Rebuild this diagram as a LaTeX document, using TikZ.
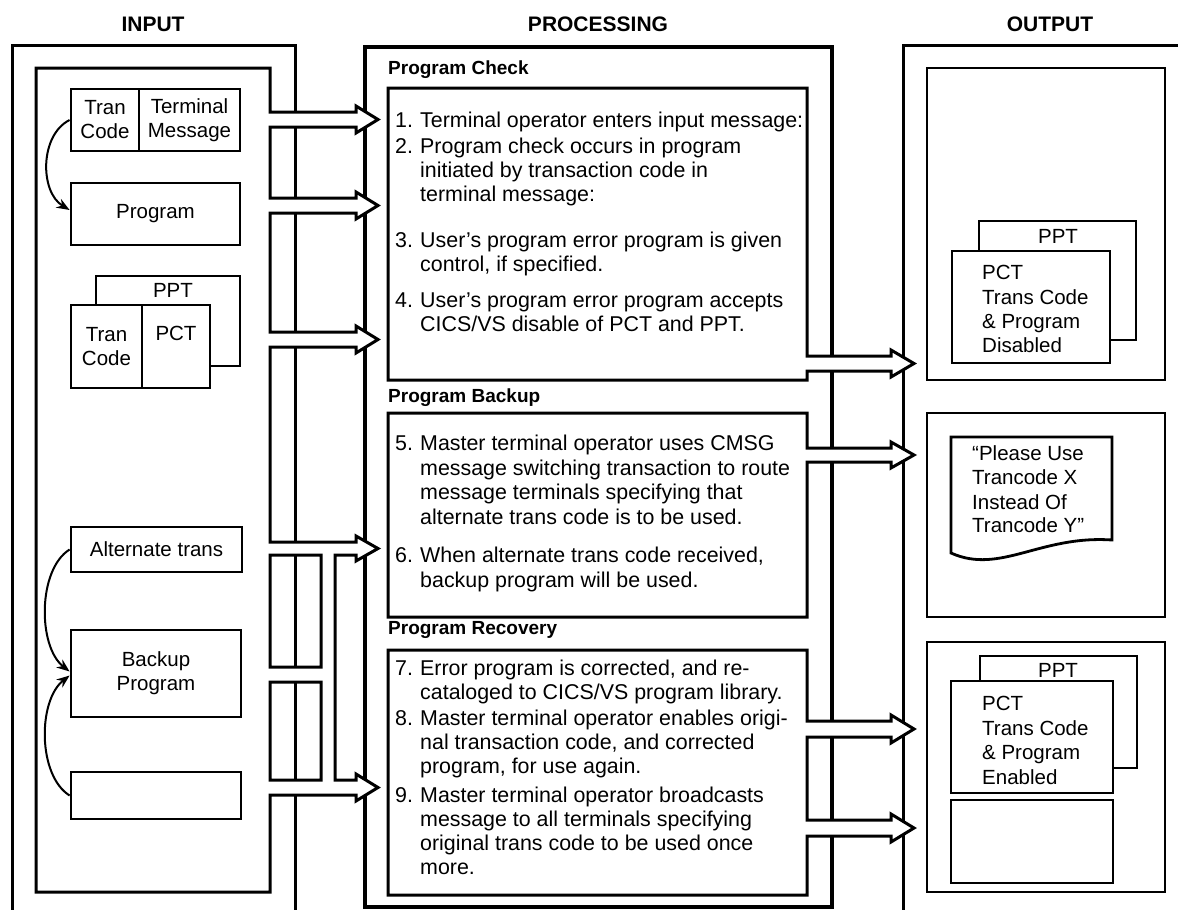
\documentclass[tikz,border=0pt]{standalone}
\usepackage{fontspec}
\setmainfont{Liberation Sans}
\usetikzlibrary{arrows.meta}
\newcommand\bodyfont{\fontsize{21.4pt}{24.5pt}\selectfont}
\newcommand\boxfont{\fontsize{20.5pt}{24pt}\selectfont}
\newcommand\headfont{\fontsize{21pt}{25pt}\selectfont\bfseries}
\newcommand\labfont{\fontsize{19pt}{23pt}\selectfont\bfseries}
\begin{document}
\begin{tikzpicture}[x=1pt,y=-1pt,
  frame/.style={line width=3pt, line join=miter},
  heavy/.style={line width=4.5pt},
  pipe/.style={line width=3pt, fill=white, line join=miter},
  box/.style={draw, line width=2.8pt, fill=white, inner sep=0pt, font=\boxfont},
  txt/.style={anchor=base west, inner sep=0pt, font=\bodyfont},
  otxt/.style={anchor=base west, inner sep=0pt, font=\boxfont},
  ctxt/.style={anchor=base, inner sep=0pt, font=\boxfont},
  head/.style={anchor=base, inner sep=0pt, font=\headfont},
  lab/.style={anchor=base west, inner sep=0pt, font=\labfont},
  link/.style={line width=2pt, -{Stealth[length=13pt,width=10pt]}},
]
\useasboundingbox (0,0) rectangle (1178,910);
\fill[white] (0,0) rectangle (1178,910);

% column titles
\node[head] (tin)  at (153,31)  {INPUT};
\node[head] (tpro) at (598,31)  {PROCESSING};
\node[head] (tout) at (1050,31) {OUTPUT};

% outer frames of the three columns
\draw[frame] (12,925) -- (12,45) -- (295,45) -- (295,925);
\draw[heavy] (365,47) rectangle (832,907);
\draw[frame] (903,925) -- (903,45) -- (1195,45);

% input frame with its outlet pipes and block arrows
\draw[pipe, even odd rule]
  (36,68) -- (270,68) -- (270,112) -- (356,112) -- (356,106) -- (378,119.5) -- (356,133) -- (356,127) -- (270,127)
  -- (270,198) -- (356,198) -- (356,192) -- (378,205.5) -- (356,219) -- (356,213) -- (270,213)
  -- (270,332) -- (356,332) -- (356,326) -- (378,339.5) -- (356,353) -- (356,347) -- (270,347)
  -- (270,542) -- (356,542) -- (356,536) -- (378,548.5) -- (356,561) -- (356,555) -- (335,555)
  -- (335,780) -- (356,780) -- (356,774) -- (378,787.5) -- (356,801) -- (356,795) -- (270,795)
  -- (270,892) -- (36,892) -- cycle
  (270,555) rectangle (321,667)
  (270,682) rectangle (321,780);

% processing boxes with arrows to the output column
\draw[pipe]
  (388,88) -- (807,88) -- (807,356) -- (891,356) -- (891,350) -- (914,363.5) -- (891,377) -- (891,371) -- (807,371)
  -- (807,380) -- (388,380) -- cycle;
\draw[pipe]
  (388,413) -- (807,413) -- (807,448) -- (891,448) -- (891,442) -- (914,455) -- (891,468) -- (891,462) -- (807,462)
  -- (807,617) -- (388,617) -- cycle;
\draw[pipe]
  (388,650) -- (807,650) -- (807,721) -- (891,721) -- (891,715) -- (914,729) -- (891,743) -- (891,737) -- (807,737)
  -- (807,820) -- (891,820) -- (891,814) -- (914,828) -- (891,842) -- (891,836) -- (807,836)
  -- (807,895) -- (388,895) -- cycle;

% ---------------- input column ----------------
\node[box, minimum width=68pt, minimum height=62pt, align=center] (tc1) at (105,120) {Tran\\Code};
\node[box, minimum width=101pt, minimum height=62pt, align=center] (tm1) at (189.5,120) {Terminal\\Message};
\node[box, minimum width=169pt, minimum height=62pt] (prog) at (155.5,214) {Program};
\draw[link] (tc1.west) .. controls +(-30,15) and +(-30,-18) .. ([yshift=4pt]prog.west);

\node[box, minimum width=144pt, minimum height=90pt] (ppt0) at (168,321) {};
\node[ctxt] (ppt0t) at (173,297) {PPT};
\node[box, minimum width=71pt, minimum height=83pt, align=center] (tc2) at (106.5,346.5) {Tran\\Code};
\node[box, minimum width=68pt, minimum height=83pt] (pct0) at (176,346.5) {};
\node[ctxt] (pct0t) at (176,340) {PCT};

\node[box, minimum width=171pt, minimum height=45pt] (alt) at (156.5,549.5) {Alternate trans};
\node[box, minimum width=170pt, minimum height=87pt, align=center] (bkp) at (156,673.5) {Backup\\Program};
\node[box, minimum width=170pt, minimum height=47pt] (blk) at (156,795.5) {};
\draw[link] (alt.west) .. controls +(-32,20) and +(-32,-25) .. ([yshift=2pt]bkp.west);
\draw[link] (blk.west) .. controls +(-32,-20) and +(-32,25) .. ([yshift=-2pt]bkp.west);

% ---------------- processing column ----------------
\node[lab] (lchk) at (388,74)  {Program Check};
\node[lab] (lbkp) at (388,402) {Program Backup};
\node[lab] (lrec) at (388,634) {Program Recovery};

\node[txt] (n1)  at (395,127) {1.};
\node[txt] (p1a) at (420,127) {Terminal operator enters input message:};
\node[txt] (n2)  at (395,153) {2.};
\node[txt] (p2a) at (420,153) {Program check occurs in program};
\node[txt] (p2b) at (420,177) {initiated by transaction code in};
\node[txt] (p2c) at (420,201) {terminal message:};
\node[txt] (n3)  at (395,247) {3.};
\node[txt] (p3a) at (420,247) {User’s program error program is given};
\node[txt] (p3b) at (420,271) {control, if specified.};
\node[txt] (n4)  at (395,307) {4.};
\node[txt] (p4a) at (420,307) {User’s program error program accepts};
\node[txt] (p4b) at (420,331) {CICS/VS disable of PCT and PPT.};

\node[txt] (n5)  at (395,450) {5.};
\node[txt] (p5a) at (420,450) {Master terminal operator uses CMSG};
\node[txt] (p5b) at (420,475) {message switching transaction to route};
\node[txt] (p5c) at (420,499) {message terminals specifying that};
\node[txt] (p5d) at (420,524) {alternate trans code is to be used.};
\node[txt] (n6)  at (395,562) {6.};
\node[txt] (p6a) at (420,562) {When alternate trans code received,};
\node[txt] (p6b) at (420,587) {backup program will be used.};

\node[txt] (n7)  at (395,675) {7.};
\node[txt] (p7a) at (420,675) {Error program is corrected, and re-};
\node[txt] (p7b) at (420,699) {cataloged to CICS/VS program library.};
\node[txt] (n8)  at (395,725) {8.};
\node[txt] (p8a) at (420,725) {Master terminal operator enables origi-};
\node[txt] (p8b) at (420,749) {nal transaction code, and corrected};
\node[txt] (p8c) at (420,773) {program, for use again.};
\node[txt] (n9)  at (395,802) {9.};
\node[txt] (p9a) at (420,802) {Master terminal operator broadcasts};
\node[txt] (p9b) at (420,826) {message to all terminals specifying};
\node[txt] (p9c) at (420,850) {original trans code to be used once};
\node[txt] (p9d) at (420,874) {more.};

% ---------------- output column ----------------
\node[box, minimum width=238pt, minimum height=312pt] (o1) at (1046,224) {};
\node[box, minimum width=157pt, minimum height=119pt] (o1b) at (1057.5,280.5) {};
\node[ctxt] (o1bt) at (1058,243) {PPT};
\node[box, minimum width=158pt, minimum height=112pt] (o1f) at (1031,307) {};
\node[otxt] (o1a) at (982,279) {PCT};
\node[otxt] (o1c) at (982,304) {Trans Code};
\node[otxt] (o1d) at (982,328) {\& Program};
\node[otxt] (o1e) at (982,352) {Disabled};

\node[box, minimum width=238pt, minimum height=204pt] (o2) at (1046,515) {};
\draw[line width=2.8pt, fill=white, line join=miter] (951,437) -- (1112,437) -- (1112,540)
  .. controls (1040,535) and (1000,575) .. (951,553) -- cycle;
\node[otxt] (o2a) at (972,460) {“Please Use};
\node[otxt] (o2b) at (972,484) {Trancode X};
\node[otxt] (o2c) at (972,509) {Instead Of};
\node[otxt] (o2d) at (972,532) {Trancode Y”};

\node[box, minimum width=238pt, minimum height=250pt] (o3) at (1046,767) {};
\node[box, minimum width=157pt, minimum height=112pt] (o3b) at (1058.5,712) {};
\node[ctxt] (o3bt) at (1058,677) {PPT};
\node[box, minimum width=162pt, minimum height=112pt] (o3f) at (1032,737) {};
\node[otxt] (o3a) at (982,710) {PCT};
\node[otxt] (o3c) at (982,735) {Trans Code};
\node[otxt] (o3d) at (982,759) {\& Program};
\node[otxt] (o3e) at (982,784) {Enabled};
\node[box, minimum width=162pt, minimum height=83pt] (o3g) at (1032,841.5) {};
\end{tikzpicture}
\end{document}
